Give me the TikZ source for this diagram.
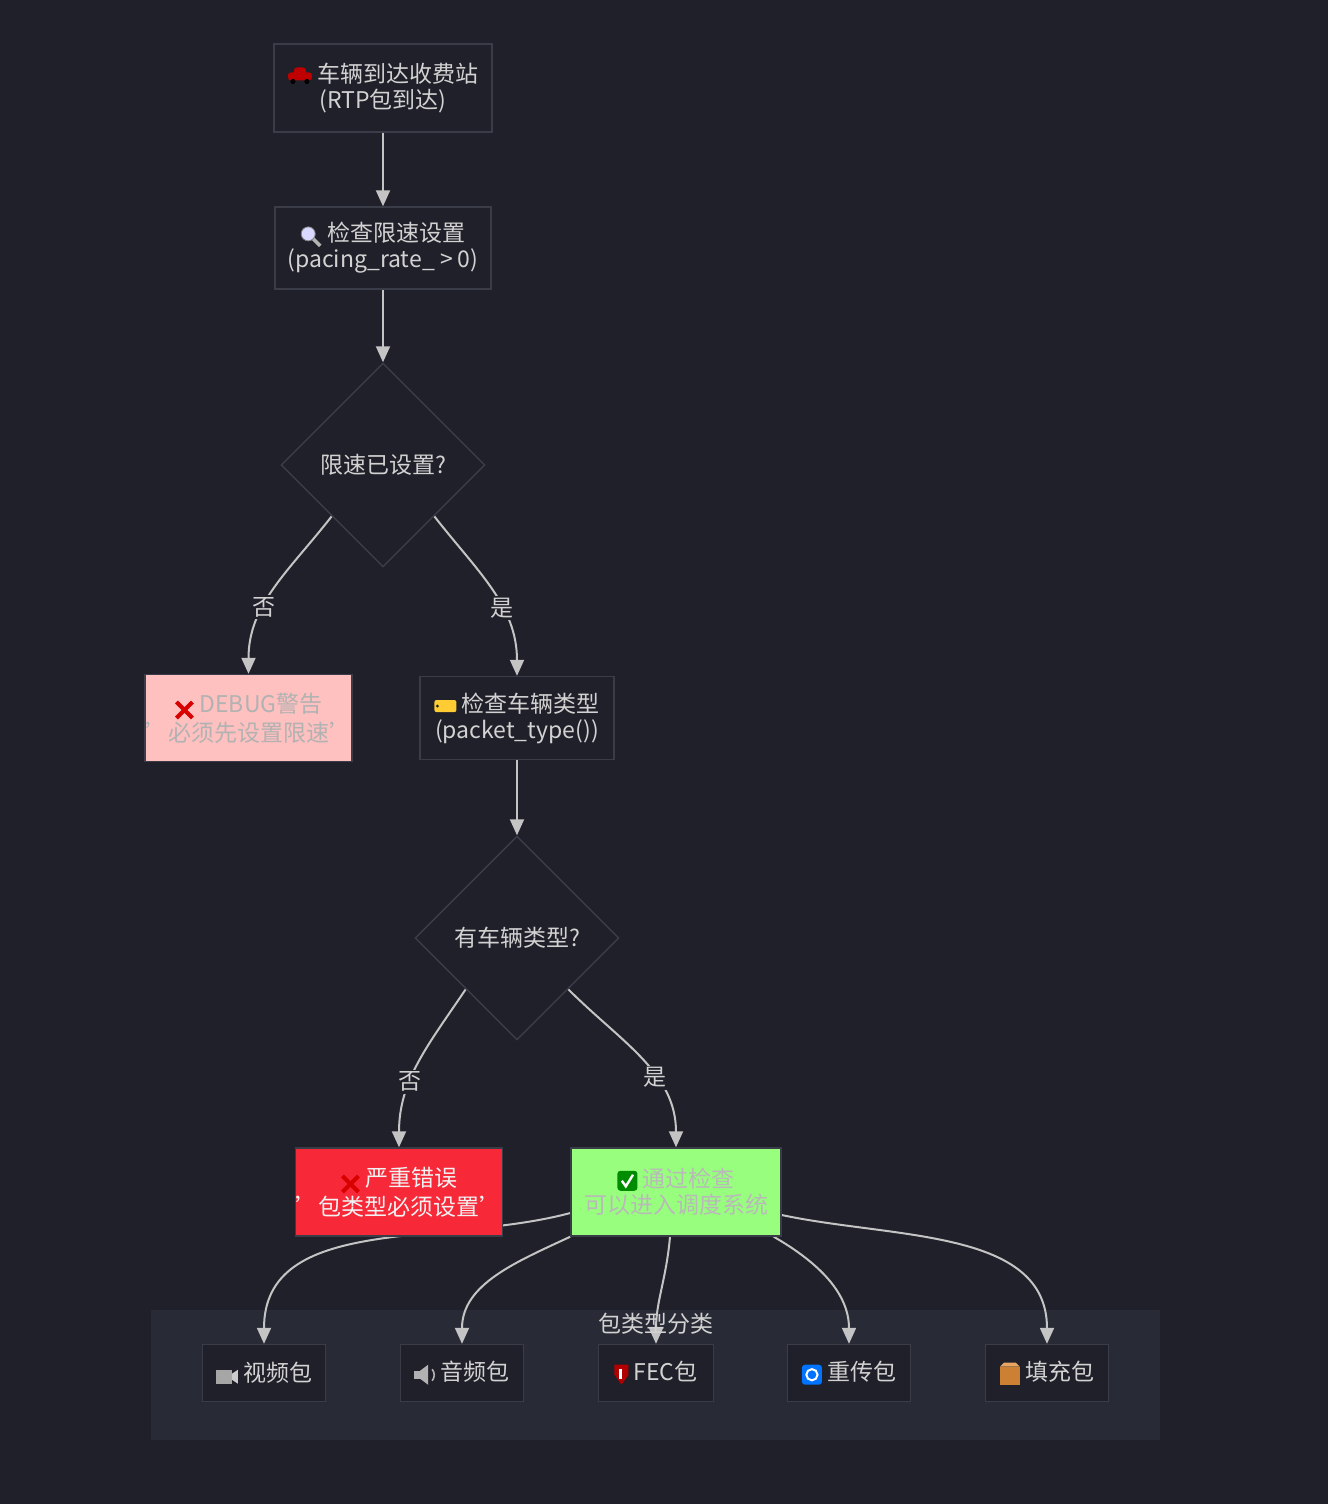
\documentclass[tikz,border=0pt]{standalone}
\usepackage{fontspec}
\setmainfont{Noto Sans CJK SC}
\usetikzlibrary{shapes.geometric,arrows.meta}
\definecolor{bgc}{HTML}{1F2029}
\definecolor{edgec}{HTML}{C4C4C4}
\definecolor{txtc}{HTML}{D2D2D2}
\definecolor{bordc}{HTML}{3A3D48}
\definecolor{clusc}{HTML}{282B36}
\definecolor{warnc}{HTML}{FFC0C0}
\definecolor{errc}{HTML}{F72838}
\definecolor{okc}{HTML}{98FF7E}
\pgfdeclarelayer{bg}\pgfdeclarelayer{edges}
\pgfsetlayers{bg,edges,main}
\newcommand{\sq}{\symbol{39}}
% small icons instead of emoji
\newcommand{\icx}{\tikz[baseline=-1pt,line width=2pt,red!85!black]{\draw (-4pt,-4pt)--(4pt,4pt) (-4pt,4pt)--(4pt,-4pt);}}
\newcommand{\icok}{\tikz[baseline=-3.5pt]{\fill[green!55!black,rounded corners=1.5pt] (-5pt,-5pt) rectangle (5pt,5pt);\draw[white,line width=1.2pt] (-2.8pt,0pt)--(-0.8pt,-2.8pt)--(2.8pt,3pt);}}
\newcommand{\ictag}{\tikz[baseline=-3pt]{\fill[orange!50!yellow!80!white,rounded corners=1pt] (-5pt,-3pt) rectangle (6pt,3pt);\fill[bgc] (-3.5pt,0) circle (0.8pt);}}
\newcommand{\iccar}{\tikz[baseline=-3pt]{\fill[red!75!black,rounded corners=1.5pt] (-6pt,-2pt) rectangle (6pt,2pt) (-3pt,1pt) rectangle (3pt,4.5pt);\fill[black] (-3.5pt,-2.5pt) circle (1.3pt) (3.5pt,-2.5pt) circle (1.3pt);}}
\newcommand{\iclens}{\tikz[baseline=-3pt]{\draw[gray!60,line width=1.8pt] (1pt,-1pt)--(5pt,-5pt);\fill[white!85!blue] (-1pt,1pt) circle (3.5pt);\draw[gray] (-1pt,1pt) circle (3.5pt);}}
\newcommand{\iccam}{\tikz[baseline=-3pt]{\fill[gray!70] (-5pt,-4pt) rectangle (3pt,3pt);\fill[gray!40] (3pt,-2pt)--(6pt,-4pt)--(6pt,3pt)--(3pt,1pt)--cycle;}}
\newcommand{\icspk}{\tikz[baseline=-3pt]{\fill[gray!60] (-5pt,-2pt) rectangle (-2pt,2pt);\fill[gray!60] (-2pt,-2pt)--(2pt,-5pt)--(2pt,5pt)--(-2pt,2pt)--cycle;\draw[gray!60,line width=.8pt] (4pt,-3pt) arc (-40:40:4.5pt);}}
\newcommand{\icshield}{\tikz[baseline=-3pt]{\fill[red!70!black] (-3.5pt,5pt)--(3.5pt,5pt)--(3.5pt,0pt)--(0,-5pt)--(-3.5pt,0)--cycle;\fill[white] (-1pt,3pt) rectangle (0.5pt,-2pt);}}
\newcommand{\icrot}{\tikz[baseline=-3pt]{\fill[blue!55!cyan,rounded corners=1.5pt] (-5pt,-5pt) rectangle (5pt,5pt);\draw[white,line width=1pt] (0,0) circle (2.8pt);}}
\newcommand{\icbox}{\tikz[baseline=-3pt]{\fill[brown!80!orange] (-5pt,-5pt) rectangle (5pt,4pt);\fill[brown!50!orange!70!white] (-5pt,4pt)--(5pt,4pt)--(3pt,6pt)--(-3pt,6pt)--cycle;}}
\tikzset{
  box/.style={draw=bordc, line width=0.7pt, fill=bgc, text=txtc, align=center, inner sep=0pt},
  dia/.style={diamond, draw=bordc, line width=0.7pt, fill=bgc, text=txtc, minimum width=204\px, minimum height=204\px, inner sep=0pt},
  flow/.style={draw=edgec, line width=1pt, -{Triangle[width=7pt,length=8pt]}},
  lbl/.style={text=txtc, fill=bgc, inner sep=1pt}
}
\newlength{\px}\setlength{\px}{0.5pt}
\begin{document}
\begin{tikzpicture}[x=0.5pt,y=-0.5pt,font=\fontsize{11.5pt}{13pt}\selectfont]
\begin{pgfonlayer}{bg}
\fill[bgc] (0,0) rectangle (1328,1504);
\fill[clusc] (151,1310) rectangle (1160,1440);
\end{pgfonlayer}
\useasboundingbox (0,0) rectangle (1328,1504);
% flow nodes
\node[box, minimum width=218\px, minimum height=88\px] (arrive) at (383,88) {\iccar\ 车辆到达收费站\\(RTP包到达)};
\node[box, minimum width=216\px, minimum height=82\px] (checkrate) at (383,248) {\iclens\ 检查限速设置\\(pacing\_rate\_ > 0)};
\node[dia] (rateset) at (383,465) {限速已设置?};
\node[box, fill=warnc, text=gray!60, minimum width=193\px, minimum height=87\px] (debugwarn) at (248.5,718) {\icx\ DEBUG警告\\\sq 必须先设置限速\sq};
\node[box, minimum width=194\px, minimum height=83\px] (checktype) at (517,718) {\ictag\ 检查车辆类型\\(packet\_type())};
\node[dia] (typeset) at (517,938) {有车辆类型?};
\node[box, fill=errc, text=white!90!gray, minimum width=194\px, minimum height=88\px] (fatal) at (399,1192) {\icx\ 严重错误\\\sq 包类型必须设置\sq};
\node[box, fill=okc, text=gray!55, minimum width=210\px, minimum height=88\px] (passed) at (676,1192) {\icok\ 通过检查\\可以进入调度系统};
% cluster of packet kinds
\node[text=txtc] (clustertitle) at (656,1324) {包类型分类};
\node[box, minimum width=123\px, minimum height=57\px] (video) at (264,1373) {\iccam\ 视频包};
\node[box, minimum width=123\px, minimum height=57\px] (audio) at (462,1373) {\icspk\ 音频包};
\node[box, minimum width=115\px, minimum height=57\px] (fec) at (656,1373) {\icshield\ FEC包};
\node[box, minimum width=123\px, minimum height=57\px] (retrans) at (849,1373) {\icrot\ 重传包};
\node[box, minimum width=123\px, minimum height=57\px] (padding) at (1047,1373) {\icbox\ 填充包};
% connectors
\begin{pgfonlayer}{edges}
\draw[flow] (arrive) -- (checkrate);
\draw[flow] (checkrate) -- (rateset);
\draw[flow] (rateset.south west) to[out=-128,in=90] node[lbl, pos=0.62]{否} (debugwarn.north);
\draw[flow] (rateset.south east) to[out=-52,in=90] node[lbl, pos=0.62]{是} (checktype.north);
\draw[flow] (checktype) -- (typeset);
\draw[flow] (typeset.south west) to[out=-124,in=90] node[lbl, pos=0.62]{否} (fatal.north);
\draw[flow] (typeset.south east) to[out=-45,in=90] node[lbl, pos=0.62]{是} (passed.north);
\draw[flow] (passed.west |- 0,1213) to[out=195,in=90] (video.north);
\draw[flow] (passed.south west) to[out=205,in=90] (audio.north);
\draw[flow] ([xshift=-6\px]passed.south) to[out=-95,in=90] (fec.north);
\draw[flow] ([xshift=-8\px]passed.south east) to[out=-30,in=90] (retrans.north);
\draw[flow] (passed.east |- 0,1215) to[out=-12,in=90] (padding.north);
\end{pgfonlayer}
\end{tikzpicture}
\end{document}
